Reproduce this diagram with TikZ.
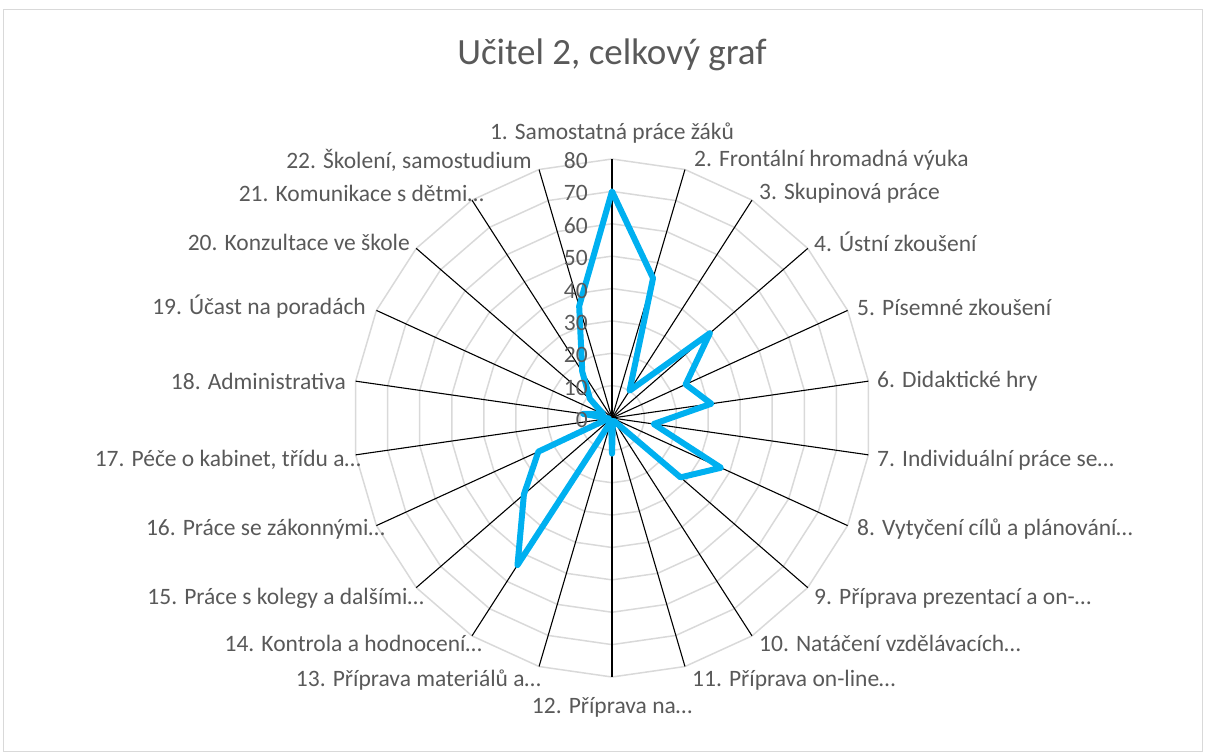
\documentclass[tikz,border=0pt]{standalone}
\usepackage{fontspec}
\setmainfont{Carlito}
\definecolor{txt}{HTML}{595959}
\definecolor{gridc}{HTML}{D9D9D9}
\definecolor{series}{HTML}{00B0F0}
\tikzset{
  gridring/.style={draw=gridc, line width=1.5pt},
  spoke/.style={draw=black, line width=1.1pt},
  dataline/.style={draw=series, line width=6pt, line join=round, line cap=round},
  catlabel/.style={text=txt, font=\fontsize{23.5}{26}\selectfont, inner sep=0pt},
  ticklabel/.style={text=txt, font=\fontsize{23.5}{26}\selectfont, inner sep=0pt, anchor=east},
  titlelabel/.style={text=txt, font=\fontsize{37}{42}\selectfont, inner sep=0pt},
  frame/.style={draw=gridc, line width=1pt}
}
\begin{document}
\begin{tikzpicture}[x=1pt,y=-1pt]
\useasboundingbox (0,0) rectangle (1206,754);
\draw[frame] (3.5,9.5) rectangle (1202.5,751.5);
\node[titlelabel] (title) at (612,55) {Učitel 2, celkový graf};
\coordinate (C) at (612,418);
% spoke ends
\foreach \i in {1,...,22} {
  \coordinate (s\i) at ({612+259*sin((\i-1)*360/22)}, {418-259*cos((\i-1)*360/22)});
}
% rings
\foreach \k in {1,...,8} {
  \draw[gridring] plot[samples=23, domain=0:22] ({612+\k*259/8*sin(\x*360/22)}, {418-\k*259/8*cos(\x*360/22)}) -- cycle;
}
% spokes
\foreach \i in {1,...,22} { \draw[spoke] (C) -- (s\i); }
% data
\foreach \v [count=\i] in {70,45,10,40,25,31,13,37,28,1,1,11,1,54,36,25,1,9,3,9,17,36} {
  \coordinate (d\i) at ({612+\v/80*259*sin((\i-1)*360/22)}, {418-\v/80*259*cos((\i-1)*360/22)});
}
\draw[dataline] (d1) -- (d2) -- (d3) -- (d4) -- (d5) -- (d6) -- (d7) -- (d8) -- (d9) -- (d10) -- (d11) -- (d12) -- (d13) -- (d14) -- (d15) -- (d16) -- (d17) -- (d18) -- (d19) -- (d20) -- (d21) -- (d22) -- cycle;
% tick labels
\foreach \k in {0,...,8} {
  \node[ticklabel] (t\k) at (588,{420-\k*259/8}) {\the\numexpr\k*10\relax};
}
% category labels
\node[catlabel] (l1) at (612,133) {1. Samostatná práce žáků};
\node[catlabel, anchor=west] (l2) at (694,160) {2. Frontální hromadná výuka};
\node[catlabel, anchor=west] (l3) at (759,193) {3. Skupinová práce};
\node[catlabel, anchor=west] (l4) at (814,242) {4. Ústní zkoušení};
\node[catlabel, anchor=west] (l5) at (857,307) {5. Písemné zkoušení};
\node[catlabel, anchor=west] (l6) at (877,381) {6. Didaktické hry};
\node[catlabel, anchor=west] (l7) at (877,460) {7. Individuální práce se…};
\node[catlabel, anchor=west] (l8) at (857,529) {8. Vytyčení cílů a plánování…};
\node[catlabel, anchor=west] (l9) at (814,598) {9. Příprava prezentací a on-…};
\node[catlabel, anchor=west] (l10) at (759,643) {10. Natáčení vzdělávacích…};
\node[catlabel, anchor=west] (l11) at (692,680) {11. Příprava on-line…};
\node[catlabel] (l12) at (612,707) {12. Příprava na…};
\node[catlabel, anchor=east] (l13) at (541,680) {13. Příprava materiálů a…};
\node[catlabel, anchor=east] (l14) at (482,643) {14. Kontrola a hodnocení…};
\node[catlabel, anchor=east] (l15) at (424,598) {15. Práce s kolegy a dalšími…};
\node[catlabel, anchor=east] (l16) at (385,529) {16. Práce se zákonnými…};
\node[catlabel, anchor=east] (l17) at (361,460) {17. Péče o kabinet, třídu a…};
\node[catlabel, anchor=east] (l18) at (346,381) {18. Administrativa};
\node[catlabel, anchor=east] (l19) at (366,307) {19. Účast na poradách};
\node[catlabel, anchor=east] (l20) at (410,242) {20. Konzultace ve škole};
\node[catlabel, anchor=east] (l21) at (484,193) {21. Komunikace s dětmi…};
\node[catlabel, anchor=east] (l22) at (532,160) {22. Školení, samostudium};
\end{tikzpicture}
\end{document}
